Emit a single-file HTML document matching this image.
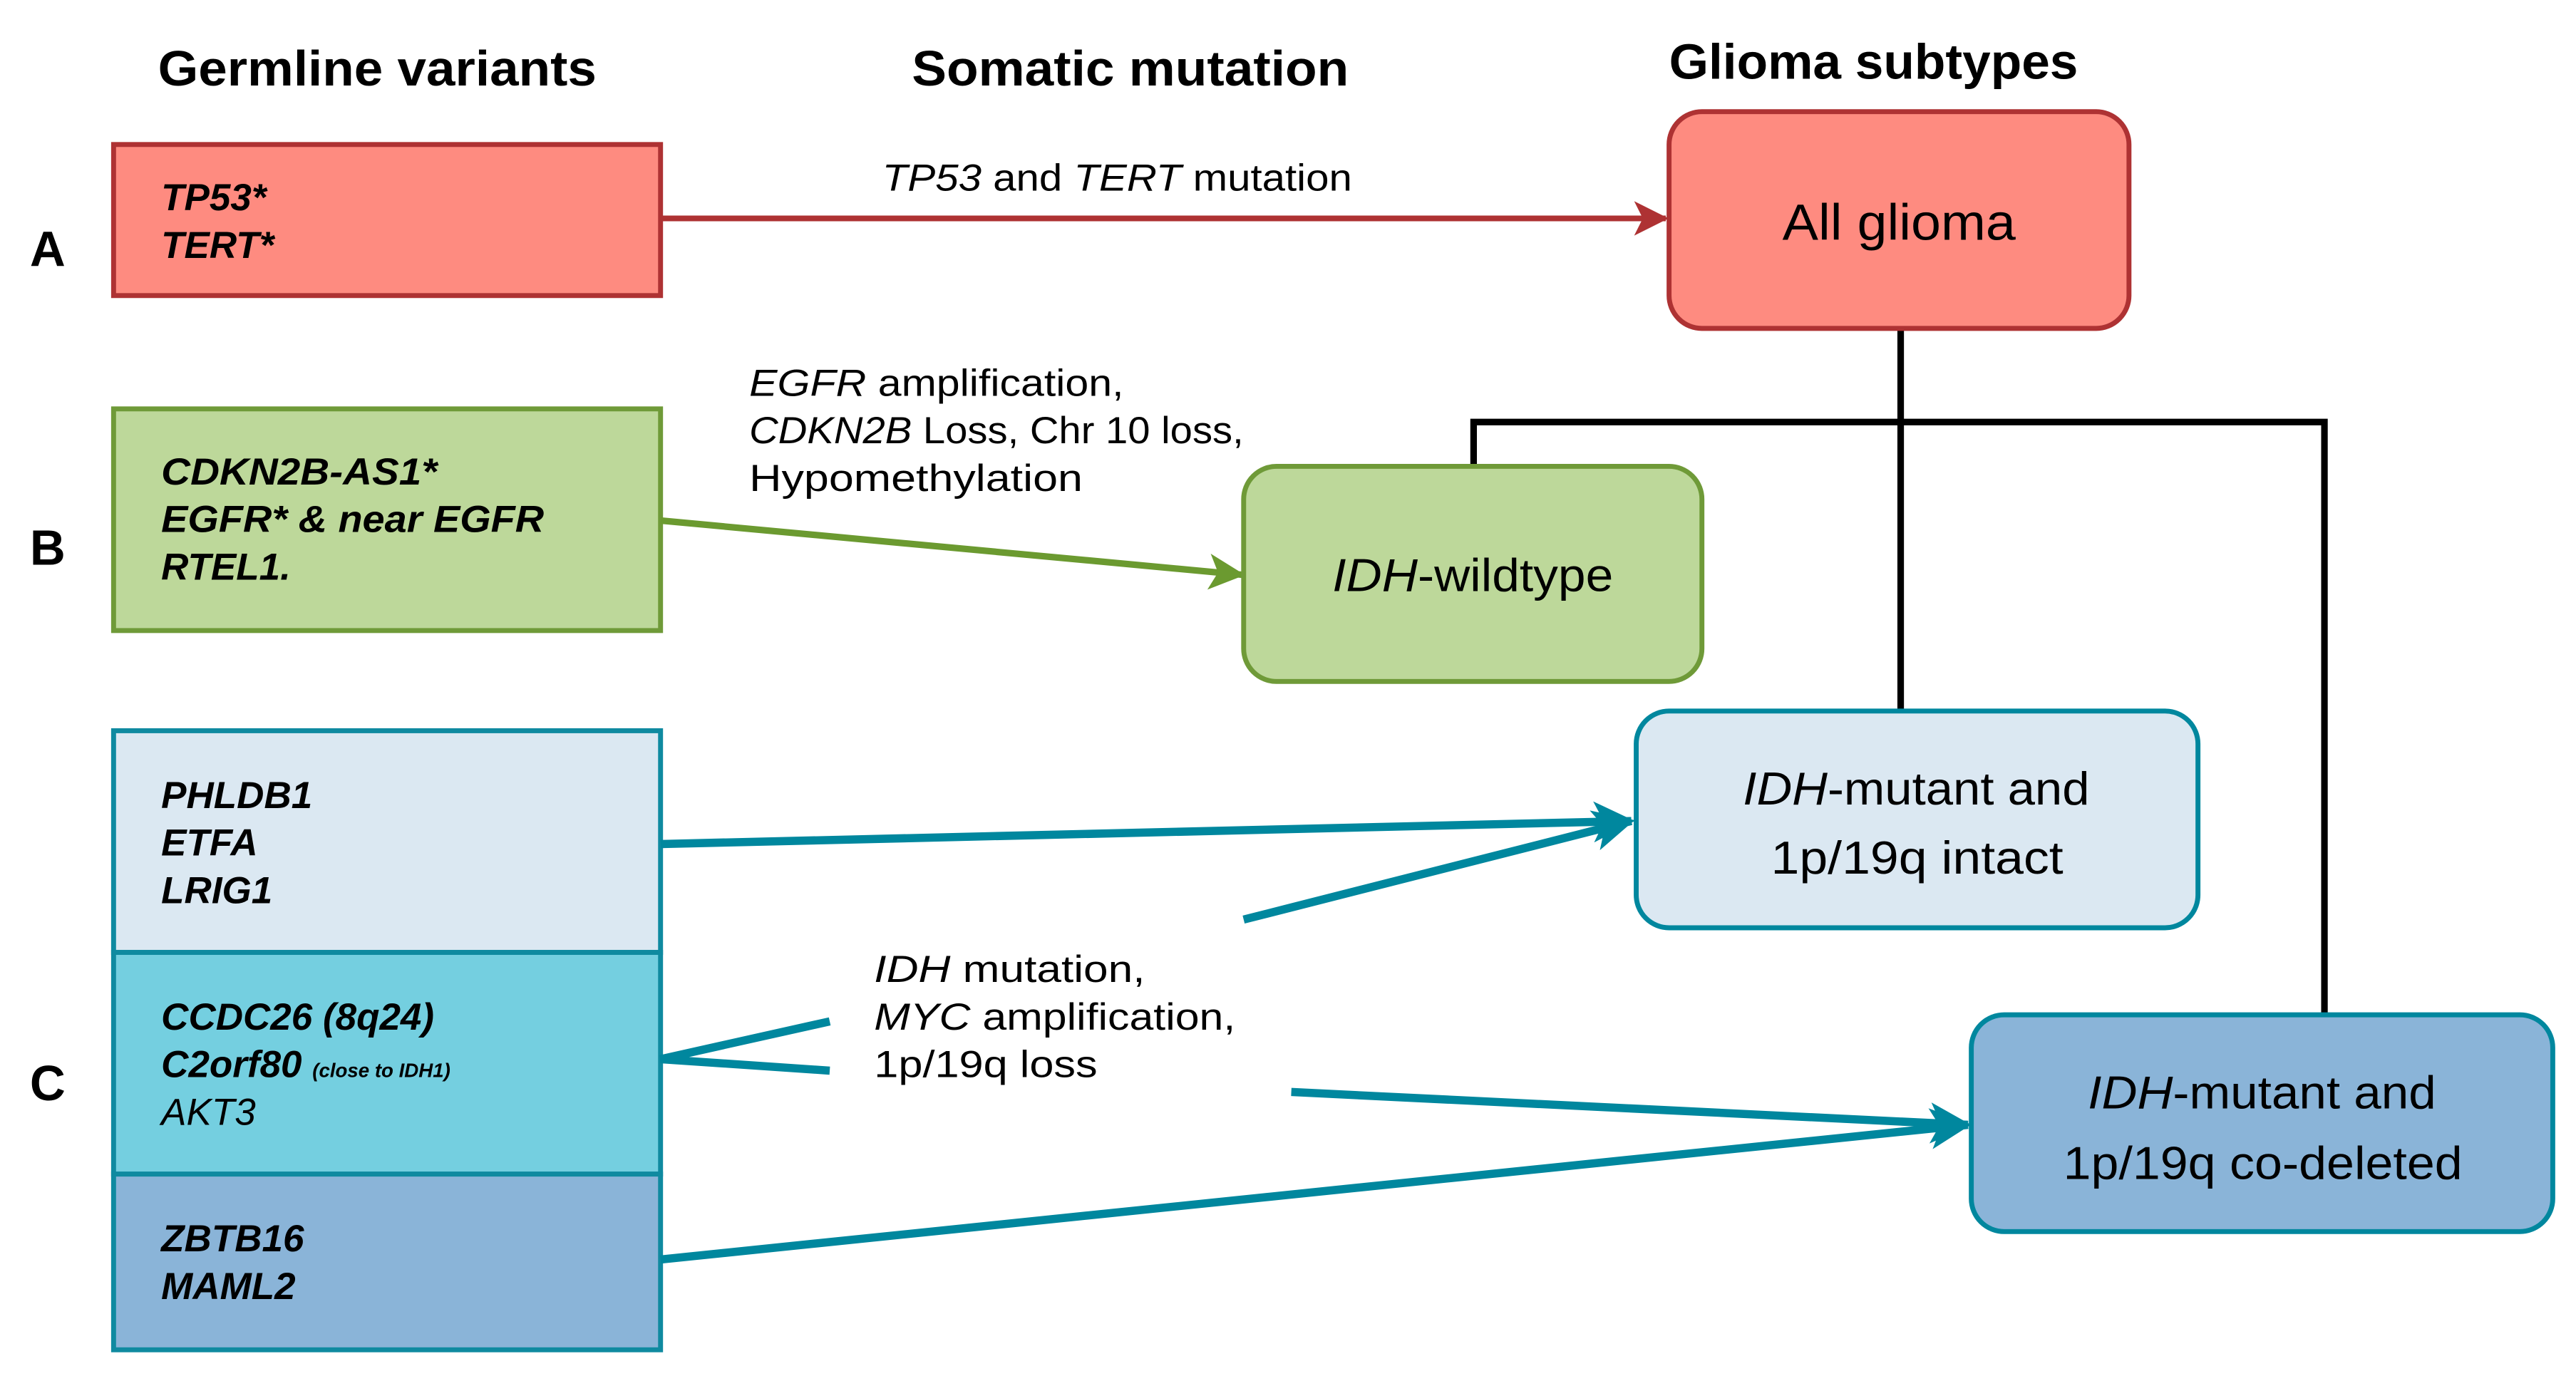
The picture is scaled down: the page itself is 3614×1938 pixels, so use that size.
<!DOCTYPE html>
<html><head><meta charset="utf-8"><style>
html,body{margin:0;padding:0;background:#fff;}
svg{display:block;}
text{font-family:"Liberation Sans",sans-serif;fill:#000;}
.h{font-weight:bold;font-size:30px;}
.g{font-weight:bold;font-style:italic;font-size:23px;}
.l{font-size:23px;}
.n{font-size:28px;}
</style></head><body>
<svg width="3614" height="1938" viewBox="0 0 1568 841" xmlns="http://www.w3.org/2000/svg">
<defs>
<marker id="ar" viewBox="0 0 12 12" refX="11" refY="6" markerWidth="6" markerHeight="6" markerUnits="strokeWidth" orient="auto"><path d="M0,0 L12,6 L0,12 L3,6 z" fill="#ae3233"/></marker>
<marker id="ag" viewBox="0 0 12 12" refX="11" refY="6" markerWidth="5.5" markerHeight="5.5" markerUnits="strokeWidth" orient="auto"><path d="M0,0 L12,6 L0,12 L3,6 z" fill="#6b9a30"/></marker>
<marker id="at" viewBox="0 0 12 12" refX="11" refY="6" markerWidth="5" markerHeight="5" markerUnits="strokeWidth" orient="auto"><path d="M0,0 L12,6 L0,12 L3,6 z" fill="#00879e"/></marker>
</defs>

<text class="h" x="96" y="52" textLength="267" lengthAdjust="spacingAndGlyphs">Germline variants</text>
<text class="h" x="555" y="52" textLength="266" lengthAdjust="spacingAndGlyphs">Somatic mutation</text>
<text class="h" x="1016" y="48" textLength="249" lengthAdjust="spacingAndGlyphs">Glioma subtypes</text>

<text class="h" x="18" y="162">A</text>
<text class="h" x="18" y="344">B</text>
<text class="h" x="18" y="670">C</text>

<g stroke="#000" stroke-width="4" fill="none">
<line x1="1157" y1="200" x2="1157" y2="433"/>
<polyline points="897,284 897,257 1415,257 1415,619"/>
</g>

<rect x="69" y="88" width="333" height="92" fill="#fe8b80" stroke="#ae3233" stroke-width="3"/>
<text class="g" x="98" y="128">TP53*</text>
<text class="g" x="98" y="157">TERT*</text>
<line x1="402" y1="133" x2="1014" y2="133" stroke="#ae3233" stroke-width="3.5" marker-end="url(#ar)"/>
<text class="l" x="537" y="116" textLength="286" lengthAdjust="spacingAndGlyphs"><tspan font-style="italic">TP53</tspan> and <tspan font-style="italic">TERT</tspan> mutation</text>
<rect x="1016" y="68" width="280" height="132" rx="20" fill="#fe8b80" stroke="#ae3233" stroke-width="3"/>
<text x="1085" y="146" font-size="31" textLength="142" lengthAdjust="spacingAndGlyphs">All glioma</text>

<rect x="69" y="249" width="333" height="135" fill="#bdd89a" stroke="#6f9a38" stroke-width="3"/>
<text class="g" x="98" y="295" textLength="168" lengthAdjust="spacingAndGlyphs">CDKN2B-AS1*</text>
<text class="g" x="98" y="324" textLength="233" lengthAdjust="spacingAndGlyphs">EGFR* &amp; near EGFR</text>
<text class="g" x="98" y="353">RTEL1.</text>
<line x1="402" y1="317" x2="756" y2="350" stroke="#6b9a30" stroke-width="4" marker-end="url(#ag)"/>
<text class="l" x="456" y="241" textLength="228" lengthAdjust="spacingAndGlyphs"><tspan font-style="italic">EGFR</tspan> amplification,</text>
<text class="l" x="456" y="270" textLength="301" lengthAdjust="spacingAndGlyphs"><tspan font-style="italic">CDKN2B</tspan> Loss, Chr 10 loss,</text>
<text class="l" x="456" y="299" textLength="203" lengthAdjust="spacingAndGlyphs">Hypomethylation</text>
<rect x="757" y="284" width="279" height="131" rx="20" fill="#bdd89a" stroke="#6f9a38" stroke-width="3"/>
<text class="n" x="811" y="360" textLength="171" lengthAdjust="spacingAndGlyphs"><tspan font-style="italic">IDH</tspan>-wildtype</text>

<rect x="69" y="445" width="333" height="135" fill="#dbe8f2" stroke="#0f8aa0" stroke-width="3"/>
<rect x="69" y="580" width="333" height="135" fill="#74cfe0" stroke="#0f8aa0" stroke-width="3"/>
<rect x="69" y="715" width="333" height="107" fill="#8ab4d8" stroke="#0f8aa0" stroke-width="3"/>
<text class="g" x="98" y="492">PHLDB1</text>
<text class="g" x="98" y="521">ETFA</text>
<text class="g" x="98" y="550">LRIG1</text>
<text class="g" x="98" y="627">CCDC26 (8q24)</text>
<text class="g" x="98" y="656">C2orf80 <tspan font-size="12">(close to IDH1)</tspan></text>
<text x="98" y="685" font-size="23" font-style="italic">AKT3</text>
<text class="g" x="98" y="762">ZBTB16</text>
<text class="g" x="98" y="791">MAML2</text>

<g stroke="#00879e" stroke-width="5" fill="none">
<line x1="402" y1="514" x2="993" y2="500" marker-end="url(#at)"/>
<line x1="757" y1="560" x2="993" y2="500" marker-end="url(#at)"/>
<polyline points="505,622 402,645 505,652"/>
<line x1="786" y1="665" x2="1198" y2="685" marker-end="url(#at)"/>
<line x1="402" y1="767" x2="1198" y2="685" marker-end="url(#at)"/>
</g>
<text class="l" x="532" y="598" textLength="165" lengthAdjust="spacingAndGlyphs"><tspan font-style="italic">IDH</tspan> mutation,</text>
<text class="l" x="532" y="627" textLength="220" lengthAdjust="spacingAndGlyphs"><tspan font-style="italic">MYC</tspan> amplification,</text>
<text class="l" x="532" y="656" textLength="136" lengthAdjust="spacingAndGlyphs">1p/19q loss</text>

<rect x="996" y="433" width="342" height="132" rx="20" fill="#dbe8f2" stroke="#00879e" stroke-width="3"/>
<text class="n" x="1061" y="490" textLength="211" lengthAdjust="spacingAndGlyphs"><tspan font-style="italic">IDH</tspan>-mutant and</text>
<text class="n" x="1078" y="532" textLength="178" lengthAdjust="spacingAndGlyphs">1p/19q intact</text>

<rect x="1200" y="618" width="354" height="132" rx="20" fill="#8ab4d8" stroke="#00879e" stroke-width="3"/>
<text class="n" x="1271" y="675" textLength="212" lengthAdjust="spacingAndGlyphs"><tspan font-style="italic">IDH</tspan>-mutant and</text>
<text class="n" x="1256" y="718" textLength="243" lengthAdjust="spacingAndGlyphs">1p/19q co-deleted</text>
</svg>
</body></html>
